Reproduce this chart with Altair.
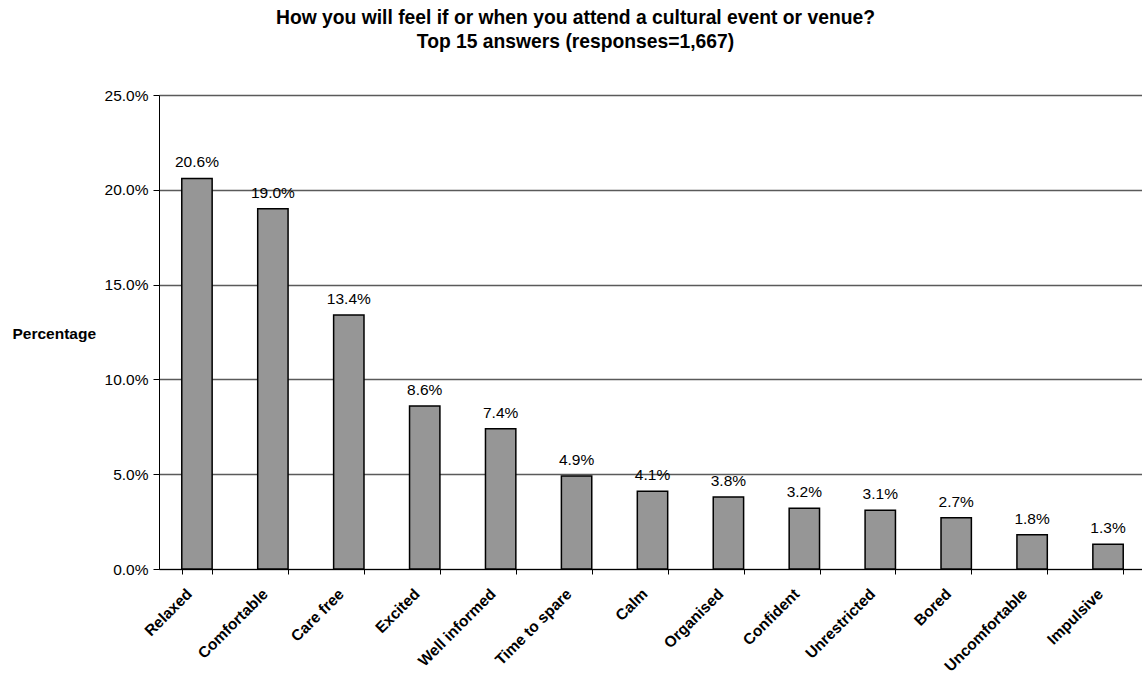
import altair as alt
import pandas as pd

# Answer categories and their share of responses
feelings = [
    "Relaxed", "Comfortable", "Care free", "Excited", "Well informed",
    "Time to spare", "Calm", "Organised", "Confident", "Unrestricted",
    "Bored", "Uncomfortable", "Impulsive",
]
shares = [0.206, 0.190, 0.134, 0.086, 0.074, 0.049, 0.041, 0.038,
          0.032, 0.031, 0.027, 0.018, 0.013]
y_ticks = [0.0, 0.05, 0.10, 0.15, 0.20, 0.25]

df = pd.DataFrame({"feeling": feelings, "share": shares})

FONT = "Liberation Sans"
FS = 15.5

x_enc = alt.X(
    "feeling:N",
    sort=feelings,
    scale=alt.Scale(paddingInner=0.6, paddingOuter=0.3, range=[0, 987]),
    axis=alt.Axis(
        title=None,
        labelAngle=-45,
        labelAlign="right",
        labelBaseline="middle",
        labelFontWeight="bold",
        labelFontSize=FS,
        labelFont=FONT,
        labelColor="black",
        labelPadding=17,
        labelOffset=-8,
        tickBand="extent",
        tickSize=5,
        tickColor="black",
        domainColor="black",
        labelOverlap=False,
        grid=False,
    ),
)

y_enc = alt.Y(
    "share:Q",
    scale=alt.Scale(domain=[0, 0.25], nice=False),
    axis=alt.Axis(
        values=y_ticks,
        format=".1%",
        title="Percentage",
        titleAngle=0,
        titleAlign="left",
        titleBaseline="middle",
        titleX=-147,
        titleY=238,
        titleFont=FONT,
        titleFontSize=FS,
        titleFontWeight="bold",
        titleColor="black",
        labelFont=FONT,
        labelFontSize=FS,
        labelColor="black",
        labelPadding=5,
        tickSize=6,
        tickColor="black",
        domainColor="black",
        grid=True,
        gridColor="#5a5a5a",
        gridWidth=1.4,
    ),
)

bars = alt.Chart(df).mark_bar(
    color="#969696", stroke="black", strokeWidth=1.5
).encode(x=x_enc, y=y_enc)

labels = alt.Chart(df).mark_text(
    baseline="alphabetic", dy=-11, font=FONT, fontSize=FS, color="black"
).encode(
    x=alt.X("feeling:N", sort=feelings),
    y=alt.Y("share:Q"),
    text=alt.Text("share:Q", format=".1%"),
)

chart = (
    alt.layer(bars, labels)
    .properties(
        width=983,
        height=474,
        autosize=alt.AutoSizeParams(type="none"),
        padding={"left": 159, "top": 95, "right": 0, "bottom": 105},
        title=alt.TitleParams(
            text=[
                "How you will feel if or when you attend a cultural event or venue?",
                "Top 15 answers (responses=1,667)",
            ],
            font=FONT,
            fontSize=19.3,
            fontWeight="bold",
            color="black",
            anchor="middle",
            frame="group",
            dx=-75,
            offset=36,
            lineHeight=24,
        ),
    )
    .configure_view(stroke=None)
    .configure(background="white")
)

chart.save("out.html", embed_options={"renderer": "svg", "actions": False})
